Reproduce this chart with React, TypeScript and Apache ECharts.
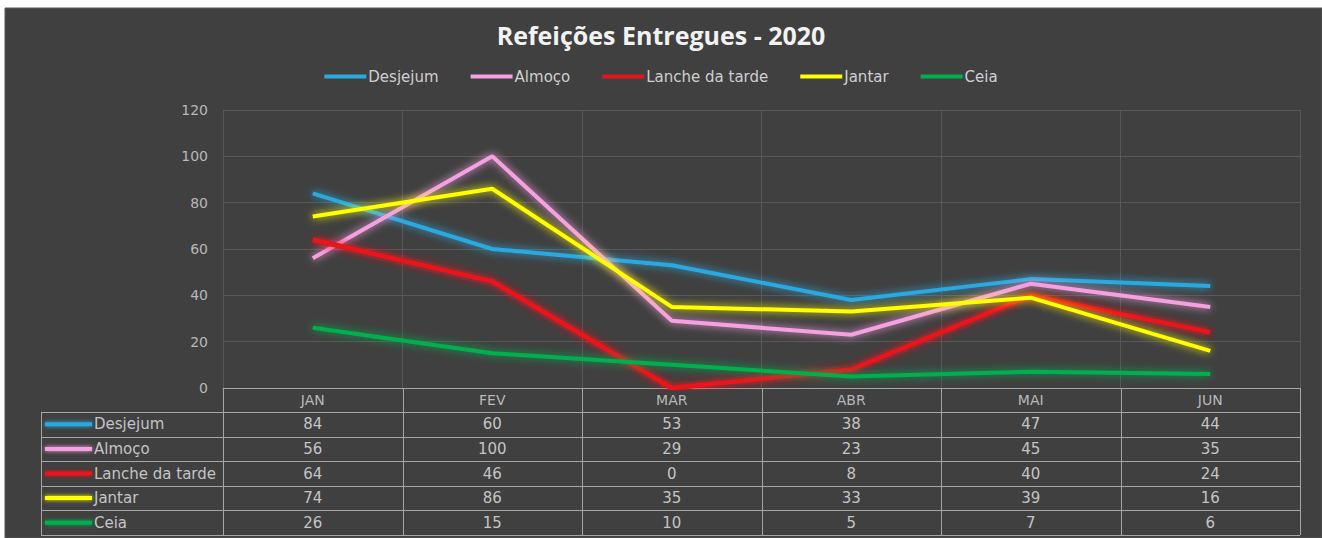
import React, { useEffect, useRef } from "react";
import * as echarts from "echarts";

const months = ["JAN", "FEV", "MAR", "ABR", "MAI", "JUN"];
const seriesNames = ["Desjejum", "Almoço", "Lanche da tarde", "Jantar", "Ceia"];
const desjejum = [84, 60, 53, 38, 47, 44];
const almoco = [56, 100, 29, 23, 45, 35];
const lanche = [64, 46, 0, 8, 40, 24];
const jantar = [74, 86, 35, 33, 39, 16];
const ceia = [26, 15, 10, 5, 7, 6];
const seriesColors = ["#29a9e0", "#f5a0e0", "#e8121c", "#ffff00", "#00b050"];
const yTicks = [0, 20, 40, 60, 80, 100, 120];

const allData = [desjejum, almoco, lanche, jantar, ceia];

export default function App() {
  const ref = useRef<HTMLDivElement>(null);
  useEffect(() => {
    if (!ref.current) return;
    const chart = echarts.init(ref.current, null, { renderer: "svg" });
    const font = "'DejaVu Sans', sans-serif";
    const titleFont = "'Open Sans', sans-serif";
    const gridLeft = 223;
    const gridRight = 1300;
    const gridTop = 110;
    const gridBottom = 388;
    const option: any = {
      animation: false,
      backgroundColor: "#ffffff",
      title: {
        text: "Refeições Entregues - 2020",
        left: "center",
        top: 17,
        textStyle: { color: "#f2f2f2", fontSize: 25, fontWeight: "bold", fontFamily: titleFont },
      },
      legend: {
        top: 64,
        left: "center",
        itemWidth: 42,
        itemHeight: 4,
        itemGap: 32,
        icon: "rect",
        textStyle: { color: "#cfcfcf", fontSize: 15, fontFamily: font, padding: [0, 0, 0, -3] },
        data: seriesNames,
      },
      grid: {
        left: gridLeft,
        right: 1322 - gridRight,
        top: gridTop,
        bottom: 538 - gridBottom,
      },
      xAxis: {
        type: "category",
        data: months,
        boundaryGap: true,
        axisTick: { show: false },
        axisLine: { show: true, lineStyle: { color: "#a6a6a6", width: 1 } },
        axisLabel: { color: "#b8b8b8", fontSize: 14, fontFamily: font, margin: 5 },
        splitLine: { show: true, lineStyle: { color: "#585858", width: 1 } },
      },
      yAxis: {
        type: "value",
        min: yTicks[0],
        max: yTicks[yTicks.length - 1],
        interval: 20,
        axisLine: { show: false },
        axisTick: { show: false },
        axisLabel: { color: "#b8b8b8", fontSize: 14, fontFamily: font, margin: 15 },
        splitLine: { show: true, lineStyle: { color: "#585858", width: 1 } },
      },
      series: seriesNames.map((name, i) => ({
        name,
        type: "line",
        data: allData[i],
        symbol: "none",
        smooth: false,
        z: 3,
        lineStyle: {
          color: seriesColors[i],
          width: i === 2 ? 5 : 4,
          shadowColor: seriesColors[i],
          shadowBlur: 9,
        },
        itemStyle: { color: seriesColors[i] },
      })),
      graphic: [],
    };
    chart.setOption(option);

    // Build the data table using the axis scale positions
    const centers = months.map((m) => chart.convertToPixel({ xAxisIndex: 0 }, m) as number);
    const band = centers.length > 1 ? centers[1] - centers[0] : 180;
    const bounds = [centers[0] - band / 2, ...centers.map((c) => c + band / 2)];
    const tableLeft = 41;
    const rowH = 24.6;
    const headerBottom = gridBottom + 24;
    const lineColor = "#a6a6a6";
    const g: any[] = [];
    g.push({
      type: "rect",
      z: -10,
      silent: true,
      shape: { x: 5, y: 8, width: 1317, height: 530 },
      style: { fill: "#404040", stroke: "#5a5a5a", lineWidth: 1 },
    });
    const tableBottom = headerBottom + rowH * seriesNames.length;
    for (let r = 0; r <= seriesNames.length; r++) {
      const y = Math.round(headerBottom + r * rowH) + 0.5;
      g.push({
        type: "line",
        silent: true,
        shape: { x1: tableLeft, y1: y, x2: bounds[bounds.length - 1], y2: y },
        style: { stroke: lineColor, lineWidth: 1 },
      });
    }
    g.push({
      type: "line",
      silent: true,
      shape: { x1: tableLeft + 0.5, y1: headerBottom, x2: tableLeft + 0.5, y2: tableBottom },
      style: { stroke: lineColor, lineWidth: 1 },
    });
    bounds.forEach((bx) => {
      const x = Math.round(bx) + 0.5;
      g.push({
        type: "line",
        silent: true,
        shape: { x1: x, y1: gridBottom, x2: x, y2: tableBottom },
        style: { stroke: lineColor, lineWidth: 1 },
      });
    });
    seriesNames.forEach((name, r) => {
      const cy = headerBottom + r * rowH + rowH / 2;
      g.push({
        type: "rect",
        silent: true,
        shape: { x: 45, y: cy - 2, width: 47, height: 4 },
        style: { fill: seriesColors[r], shadowBlur: 4, shadowColor: seriesColors[r] },
      });
      g.push({
        type: "text",
        silent: true,
        x: 94,
        y: cy,
        style: {
          text: name,
          fill: "#c4c4c4",
          font: `15px ${font}`,
          textAlign: "left",
          textVerticalAlign: "middle",
        },
      });
      allData[r].forEach((v, c) => {
        g.push({
          type: "text",
          silent: true,
          x: centers[c],
          y: cy,
          style: {
            text: String(v),
            fill: "#c4c4c4",
            font: `15px ${font}`,
            textAlign: "center",
            textVerticalAlign: "middle",
          },
        });
      });
    });
    chart.setOption({ graphic: g });
    return () => chart.dispose();
  }, []);
  return (
    <div
      ref={ref}
      style={{ position: "absolute", left: 0, top: 0, width: 1322, height: 538 }}
    />
  );
}
